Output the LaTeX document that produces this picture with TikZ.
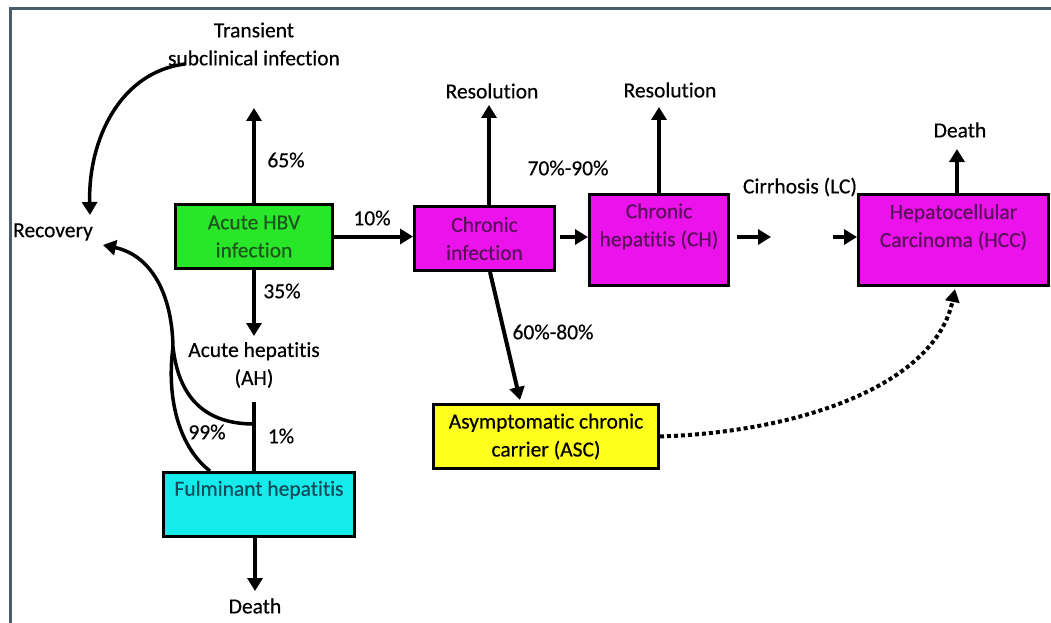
\documentclass[tikz,border=0pt]{standalone}
\usepackage{fontspec}
\setmainfont{Carlito}[Ligatures=NoCommon, FakeBold=0.4]
\usetikzlibrary{arrows.meta}
\definecolor{hgreen}{RGB}{40,230,40}
\definecolor{hmag}{RGB}{235,18,235}
\definecolor{hcyan}{RGB}{22,235,235}
\definecolor{hyellow}{RGB}{255,255,30}
\definecolor{tgreen}{RGB}{30,85,30}
\definecolor{tpurple}{RGB}{90,16,90}
\definecolor{tteal}{RGB}{15,75,90}
\definecolor{framec}{RGB}{75,93,107}
\begin{document}
\begin{tikzpicture}[x=1pt,y=-1pt,
  every node/.style={font=\fontsize{21.5}{28}\selectfont, align=center, inner sep=0pt},
  box/.style={draw=black, line width=3pt, inner sep=0pt},
  arr/.style={line width=4pt, -{Triangle[width=15pt,length=13pt]}},
  bline/.style={line width=3.5pt},
  curvearr/.style={line width=3.5pt, -{Triangle[width=15pt,length=13pt]}},
  dotarr/.style={line width=4pt, dash pattern=on 4pt off 3pt, -{Triangle[width=14pt,length=13pt]}},
  framel/.style={draw=framec, line width=3pt}]
\useasboundingbox (0,0) rectangle (1051,623);
\fill[white] (0,0) rectangle (1051,623);
\draw[framel] (10,623) -- (10,9) -- (1051,9);

% left part
\node (trans) at (254,44) {Transient\\subclinical infection};
\node (rec) at (53,232) {Recovery};
\node[box, fill=hgreen, text=tgreen, minimum width=157, minimum height=64] (ahbv) at (254,236.5) {Acute HBV\\infection};
\coordinate (up1) at (254,108);
\draw[arr] (ahbv.north) -- (up1);
\node (p65) at (286,160) {65\%};
\coordinate (ahd) at (254,336);
\draw[arr] (ahbv.south) -- (ahd);
\node (p35) at (282,291) {35\%};
\node (ah) at (254,365) {Acute hepatitis\\(AH)};
\node[box, fill=hcyan, minimum width=191, minimum height=64] (fh) at (259,504.5) {};
\node[text=tteal] (fhT) at (259,490) {Fulminant hepatitis};
\coordinate (ahb) at (254,402);
\draw[bline] (ahb) -- (ahb |- fh.north);
\coordinate (br) at (254,424);
\coordinate (fhl) at (210,471);
\coordinate (J) at (173,347);
\coordinate (recin) at (103,245);
\draw[bline] (br) .. controls (200,424) and (178,392) .. (J);
\draw[bline] (fhl) .. controls (180,448) and (166,400) .. (J);
\draw[curvearr] (J) .. controls (172,292) and (150,255) .. (recin);
\coordinate (trs) at (185,64);
\coordinate (recT) at (90,215);
\draw[curvearr] (trs) .. controls (120,72) and (88,140) .. (recT);
\node (p99) at (207,432) {99\%};
\node (p1) at (281,436) {1\%};
\node (d1) at (255,606) {Death};
\coordinate (d1in) at (255,591);
\draw[arr] (d1in |- fh.south) -- (d1in);

% chronic infection
\node[box, fill=hmag, text=tpurple, minimum width=140, minimum height=64] (ci) at (484.5,238.5) {Chronic\\infection};
\draw[arr] (ahbv.east) -- (ahbv.east -| ci.west);
\node (p10) at (372,218) {10\%};
\node (res1) at (492,91) {Resolution};
\coordinate (ciup) at (489,205);
\coordinate (res1in) at (489,105);
\draw[arr] (ciup) -- (res1in);

% chronic hepatitis
\node[box, fill=hmag, minimum width=139, minimum height=91] (ch) at (659,240) {};
\node[text=tpurple] (chT) at (659,226.5) {Chronic\\hepatitis (CH)};
\coordinate (cia) at (560,237);
\draw[arr] (cia) -- (cia -| ch.west);
\node (p7090) at (568,168) {70\%-90\%};
\node (res2) at (670,90) {Resolution};
\coordinate (res2in) at (659,107);
\draw[arr] (ch.north) -- (res2in);

% cirrhosis and HCC
\node (lc) at (800,187) {Cirrhosis (LC)};
\node[box, fill=hmag, minimum width=190, minimum height=91] (hcc) at (953.5,240) {};
\node[text=tpurple] (hccT) at (953.5,227) {Hepatocellular\\Carcinoma (HCC)};
\coordinate (cha) at (737,237);
\coordinate (lcL) at (771,237);
\coordinate (lcR) at (833,237);
\draw[arr] (cha) -- (lcL);
\draw[arr] (lcR) -- (lcR -| hcc.west);
\node (d2) at (960,130) {Death};
\coordinate (hccup) at (957,193);
\coordinate (d2in) at (957,149);
\draw[arr] (hccup) -- (d2in);

% ASC
\node[box, fill=hyellow, minimum width=225, minimum height=64] (asc) at (546,436.5) {Asymptomatic chronic\\carrier (ASC)};
\coordinate (cib) at (490,272);
\coordinate (ascin) at (520,400);
\draw[arr] (cib) -- (ascin);
\node (p6080) at (553,332) {60\%-80\%};
\coordinate (hccin) at (955,289);
\draw[dotarr] (asc.east) .. controls (800,432) and (935,385) .. (hccin);
\end{tikzpicture}
\end{document}
